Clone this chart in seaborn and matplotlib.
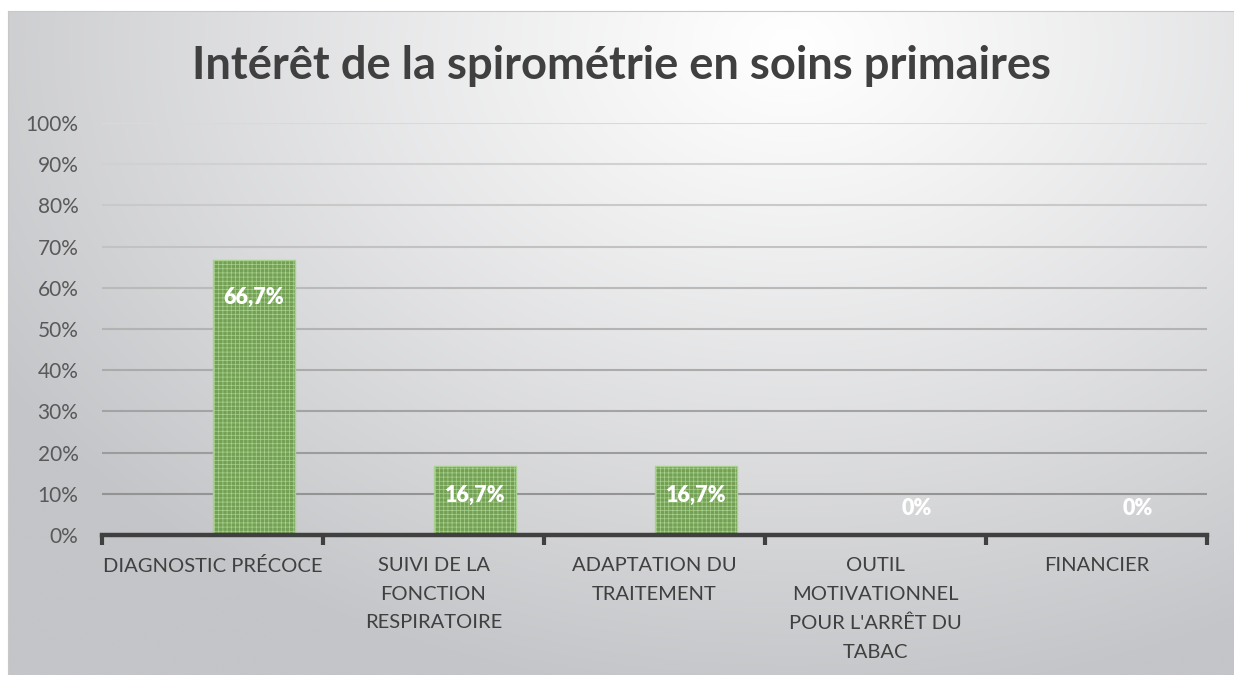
import numpy as np
import pandas as pd
import seaborn as sns
import matplotlib.pyplot as plt
from matplotlib.ticker import PercentFormatter

categories = ["DIAGNOSTIC PRÉCOCE",
              "SUIVI DE LA\nFONCTION\nRESPIRATOIRE",
              "ADAPTATION DU\nTRAITEMENT",
              "OUTIL\nMOTIVATIONNEL\nPOUR L'ARRÊT DU\nTABAC",
              "FINANCIER"]
values = [66.7, 16.7, 16.7, 0, 0]
blank = [0, 0, 0, 0, 0]   # empty first series, Excel leaves a gap for it
title = "Intérêt de la spirométrie en soins primaires"

data = pd.DataFrame({
    "cat": categories * 2,
    "serie": ["vide"] * 5 + ["reponses"] * 5,
    "val": blank + values,
})

sns.set_style("white")
plt.rcParams["font.family"] = ["Lato", "DejaVu Sans"]
plt.rcParams["hatch.linewidth"] = 0.5

fig = plt.figure(figsize=(12.34, 6.75), dpi=100)

# radial grey gradient behind the chart
bg = fig.add_axes([8 / 1234, 0, 1 - 8 / 1234, 1 - 11 / 675], zorder=-5)
yy, xx = np.mgrid[0:1:300j, 0:1:500j]
d = np.sqrt(((xx - 0.64) * 1.25) ** 2 + ((yy - 0.05) * 0.95) ** 2)
d = np.clip(d / 0.95, 0, 1)
white = np.array([1.0, 1.0, 1.0])
grey = np.array([0xc4, 0xc5, 0xc8]) / 255
img = white + (grey - white) * d[..., None] ** 1.1
bg.imshow(img, aspect="auto", extent=[0, 1, 1, 0])
bg.set_xticks([])
bg.set_yticks([])
for s in bg.spines.values():
    s.set_color("#c8c8c8")
    s.set_linewidth(0.8)

ax = fig.add_axes([102 / 1234, 140 / 675, 1105 / 1234, 412 / 675])
ax.patch.set_alpha(0)

sns.barplot(data=data, x="cat", y="val", hue="serie", hue_order=["vide", "reponses"],
            palette=["#70ad47", "#70ad47"], width=0.75, gap=0, legend=False,
            errorbar=None, ax=ax, zorder=3)

for p in ax.containers[0]:
    p.set_visible(False)
for p in ax.containers[1]:
    p.set_edgecolor("#a9d18e")
    p.set_linewidth(1.0)
    p.set_hatch("++++")

# data labels
for p, v in zip(ax.containers[1], values):
    x = p.get_x() + p.get_width() / 2
    txt = f"{v:.1f}%".replace(".", ",") if v > 0 else "0%"
    off = -27 if v > 20 else (-21 if v > 0 else 19)
    ax.annotate(txt, (x, v), xytext=(0, off), textcoords="offset points",
                ha="center", va="center", color="white", fontsize=15.5,
                fontweight="heavy", zorder=5)

ax.set_ylim(0, 100)
ax.set_xlim(-0.5, 4.5)
ax.set_yticks(np.arange(0, 101, 10))
ax.yaxis.set_major_formatter(PercentFormatter(decimals=0))
ax.tick_params(axis="y", length=0, pad=17, labelsize=15, labelcolor="#595959")

# gridlines get lighter toward the top like the original
for t in np.arange(10, 101, 10):
    f = t / 100
    c = 0.55 + 0.30 * f
    ax.axhline(t, color=(c, c, c), lw=1.5, zorder=1)

ax.set_xticks(range(5))
ax.set_xticklabels(categories, fontsize=14.5, color="#404040", linespacing=1.82, va="top")
ax.tick_params(axis="x", length=0, pad=16)
ax.set_xticks(np.arange(-0.5, 5, 1), minor=True)
ax.tick_params(axis="x", which="minor", bottom=True, length=7, width=3,
               color="#404040", direction="out")

for s in ["top", "right", "left"]:
    ax.spines[s].set_visible(False)
ax.spines["bottom"].set_color("#404040")
ax.spines["bottom"].set_linewidth(3.2)
ax.spines["bottom"].set_zorder(4)
ax.set_xlabel("")
ax.set_ylabel("")

fig.text(0.504, 1 - 66 / 675, title, ha="center", va="center", fontsize=32.7,
         fontweight="bold", color="#404040")

fig.savefig("out.png", dpi=100)
